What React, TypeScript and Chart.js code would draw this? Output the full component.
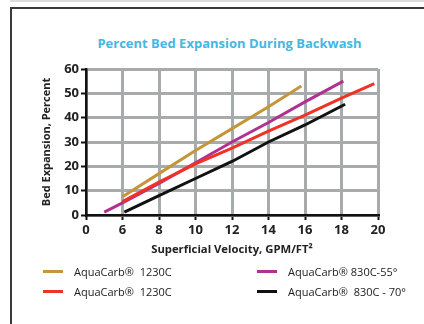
import React, { useEffect, useRef } from "react";
import { Chart, registerables } from "chart.js";

Chart.register(...registerables);

const chartTitle = "Percent Bed Expansion During Backwash";
const xAxisTitle = "Superficial Velocity, GPM/FT²";
const yAxisTitle = "Bed Expansion, Percent";

const xTickValues = [4, 6, 8, 10, 12, 14, 16, 18, 20];
const xTickLabels = ["0", "6", "8", "10", "12", "14", "16", "18", "20"];

const seriesLabels = [
  "AquaCarb®  1230C",
  "AquaCarb®  1230C",
  "AquaCarb® 830C-55°",
  "AquaCarb®  830C - 70°",
];
const seriesColors = ["#c4963c", "#ee3326", "#b03290", "#111111"];

const goldX = [6, 8, 10, 12, 14, 15.8];
const goldY = [7.5, 17, 26.5, 35.5, 44.5, 53];
const redX = [6, 8, 10, 12, 14, 16, 18, 19.8];
const redY = [5.5, 13.5, 21, 27.5, 34.5, 41, 48, 54];
const purpleX = [5, 6, 8, 10, 12, 14, 16, 18.1];
const purpleY = [1.2, 5, 13, 21.5, 30, 38, 46.5, 55];
const blackX = [6.1, 8, 10, 12, 14, 16, 18.2];
const blackY = [1.2, 8, 15, 22, 30, 37, 45.5];

const toPoints = (xs: number[], ys: number[]) => xs.map((x, i) => ({ x, y: ys[i] }));

const FONT = "'Open Sans', 'Noto Sans', sans-serif";

export default function App() {
  const canvasRef = useRef<HTMLCanvasElement | null>(null);

  useEffect(() => {
    const canvas = canvasRef.current;
    if (!canvas) return;
    const mk = (idx: number, xs: number[], ys: number[]) => ({
      label: seriesLabels[idx],
      data: toPoints(xs, ys),
      borderColor: seriesColors[idx],
      backgroundColor: seriesColors[idx],
      borderWidth: 3,
      pointRadius: 0,
      tension: 0,
      fill: false,
    });
    const chart = new Chart(canvas, {
      type: "line",
      data: {
        datasets: [
          mk(0, goldX, goldY),
          mk(1, redX, redY),
          mk(2, purpleX, purpleY),
          mk(3, blackX, blackY),
        ],
      },
      options: {
        animation: false,
        responsive: false,
        maintainAspectRatio: false,
        layout: { padding: { left: 30, top: 69, right: 46, bottom: 59 } },
        plugins: {
          legend: { display: false },
          title: { display: false },
          tooltip: { enabled: false },
        },
        scales: {
          x: {
            type: "linear",
            min: 4,
            max: 20,
            afterFit: (s: any) => {
              s.height = 50;
            },
            afterBuildTicks: (s: any) => {
              s.ticks = xTickValues.map((v) => ({ value: v }));
            },
            ticks: {
              padding: 2,
              color: "#222",
              font: { family: FONT, size: 13, weight: "bold" },
              callback: (v: any) => {
                const i = xTickValues.indexOf(Number(v));
                return i >= 0 ? xTickLabels[i] : "";
              },
            },
            grid: {
              color: "#a7abab",
              lineWidth: 3,
              drawTicks: true,
              tickLength: 5,
              tickColor: "#111",
              tickWidth: 2,
            },
            border: { display: true, color: "#111", width: 2.5 },
            title: {
              display: true,
              text: xAxisTitle,
              color: "#222",
              font: { family: FONT, size: 11.3, weight: "bold" },
              padding: { top: 0, bottom: 8 },
            },
          },
          y: {
            type: "linear",
            min: 0,
            max: 60,
            afterFit: (s: any) => {
              s.width = 56;
            },
            ticks: {
              stepSize: 10,
              padding: 2,
              color: "#222",
              font: { family: FONT, size: 13, weight: "bold" },
            },
            grid: {
              color: "#a7abab",
              lineWidth: 3,
              drawTicks: true,
              tickLength: 5,
              tickColor: "#111",
              tickWidth: 2,
            },
            border: { display: true, color: "#111", width: 2.5 },
            title: {
              display: true,
              text: yAxisTitle,
              color: "#222",
              font: { family: FONT, size: 11, weight: "bold" },
              padding: { top: 10.4, bottom: 0 },
            },
          },
        },
      },
    } as any);
    return () => chart.destroy();
  }, []);

  const legendRow = (idx: number, left: number, top: number) => (
    <div
      key={idx}
      style={{
        position: "absolute",
        left,
        top: top - 8,
        height: 16,
        display: "flex",
        alignItems: "center",
        fontFamily: FONT,
        fontSize: 11,
        color: "#222",
        whiteSpace: "pre",
      }}
    >
      <span
        style={{
          display: "inline-block",
          width: 20,
          height: 3,
          background: seriesColors[idx],
          marginRight: 11,
        }}
      />
      <span>{seriesLabels[idx]}</span>
    </div>
  );

  return (
    <div
      style={{
        position: "fixed",
        left: 0,
        top: 0,
        width: 424,
        height: 324,
        overflow: "hidden",
        background: "#fff",
      }}
    >
      <div
        style={{
          position: "absolute",
          left: 10,
          top: 0,
          width: 420,
          height: 2,
          background: "#dcdcdc",
        }}
      />
      <div
        style={{
          position: "absolute",
          left: 10,
          top: 7,
          width: 440,
          height: 340,
          border: "2px solid #3a3a3a",
          boxSizing: "border-box",
        }}
      />
      <div
        style={{
          position: "absolute",
          left: 0,
          width: 459,
          top: 34,
          textAlign: "center",
          fontFamily: FONT,
          fontWeight: "bold",
          fontSize: 13,
          lineHeight: "18px",
          color: "#45b7e2",
          whiteSpace: "nowrap",
        }}
      >
        {chartTitle}
      </div>
      <canvas
        ref={canvasRef}
        width={424}
        height={324}
        style={{ position: "absolute", left: 0, top: 0, width: 424, height: 324 }}
      />
      {legendRow(0, 43, 271)}
      {legendRow(1, 43, 291)}
      {legendRow(2, 257, 271)}
      {legendRow(3, 257, 291)}
    </div>
  );
}
